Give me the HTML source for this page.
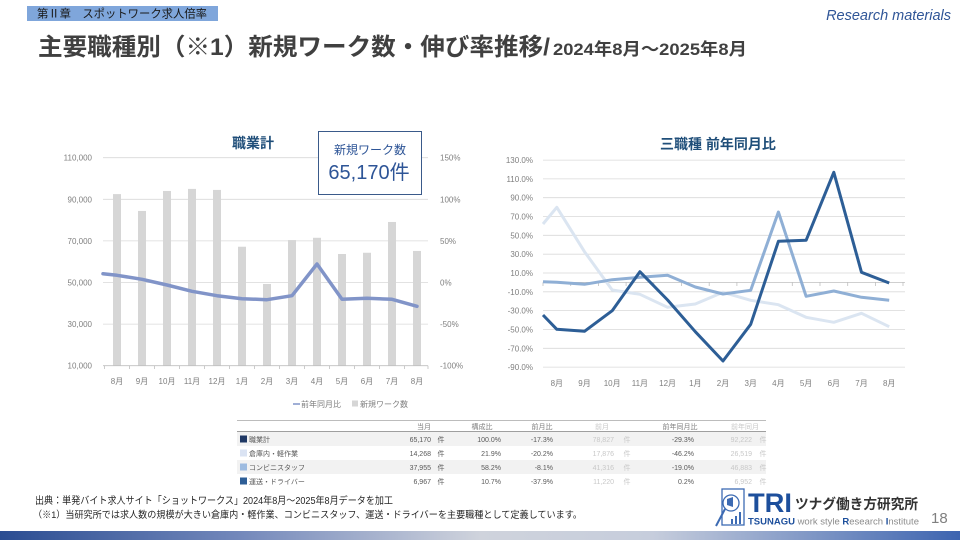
<!DOCTYPE html>
<html><head><meta charset="utf-8">
<style>
html,body{margin:0;padding:0;background:#fff;}
svg{display:block;}
text{font-family:"Liberation Sans","Noto Sans CJK JP",sans-serif;}
</style></head>
<body>
<svg width="960" height="540" viewBox="0 0 960 540" xmlns="http://www.w3.org/2000/svg">
<defs>
<linearGradient id="bar" x1="0" y1="0" x2="1" y2="0">
<stop offset="0" stop-color="#2b4d92"/>
<stop offset="0.25" stop-color="#7388bb"/>
<stop offset="0.5" stop-color="#cfd3dc"/>
<stop offset="0.68" stop-color="#c6cddc"/>
<stop offset="1" stop-color="#3d64b0"/>
</linearGradient>
</defs>

<!-- header -->
<rect x="27" y="6" width="191" height="15" fill="#7fa6db"/>
<text x="37" y="17.5" font-size="11.5" fill="#1a1a1a" textLength="170" lengthAdjust="spacingAndGlyphs">第Ⅱ章　スポットワーク求人倍率</text>
<text x="951" y="20" font-size="14.5" font-style="italic" fill="#2f5597" text-anchor="end">Research materials</text>
<text x="38" y="55" font-size="24" font-weight="bold" fill="#404040" textLength="512" lengthAdjust="spacingAndGlyphs">主要職種別（※1）新規ワーク数・伸び率推移/</text>
<text x="553" y="55" font-size="17" font-weight="bold" fill="#404040" textLength="194" lengthAdjust="spacingAndGlyphs">2024年8月～2025年8月</text>

<!-- LEFT CHART -->
<g stroke="#d9d9d9" stroke-width="0.8">
<line x1="103" y1="157.7" x2="428" y2="157.7"/>
<line x1="103" y1="199.3" x2="428" y2="199.3"/>
<line x1="103" y1="240.9" x2="428" y2="240.9"/>
<line x1="103" y1="282.5" x2="428" y2="282.5"/>
<line x1="103" y1="324.1" x2="428" y2="324.1"/>
</g>
<g fill="#d6d6d6">
<rect x="113" y="194.1" width="8" height="171.6"/>
<rect x="138" y="210.95" width="8" height="154.75"/>
<rect x="163" y="190.98" width="8" height="174.72"/>
<rect x="188" y="188.9" width="8" height="176.8"/>
<rect x="213" y="189.94" width="8" height="175.76"/>
<rect x="238" y="246.72" width="8" height="118.98"/>
<rect x="263" y="283.96" width="8" height="81.74"/>
<rect x="288" y="240.07" width="8" height="125.63"/>
<rect x="313" y="237.78" width="8" height="127.92"/>
<rect x="338" y="254" width="8" height="111.7"/>
<rect x="363" y="252.76" width="8" height="112.94"/>
<rect x="388" y="221.97" width="8" height="143.73"/>
<rect x="413" y="250.95" width="8" height="114.75"/>
</g>
<g stroke="#bfbfbf" stroke-width="0.8">
<line x1="103" y1="365.7" x2="428" y2="365.7"/>
<line x1="104.5" y1="365.7" x2="104.5" y2="369"/><line x1="129.5" y1="365.7" x2="129.5" y2="369"/>
<line x1="154.5" y1="365.7" x2="154.5" y2="369"/><line x1="179.5" y1="365.7" x2="179.5" y2="369"/>
<line x1="204.5" y1="365.7" x2="204.5" y2="369"/><line x1="229.5" y1="365.7" x2="229.5" y2="369"/>
<line x1="254.5" y1="365.7" x2="254.5" y2="369"/><line x1="279.5" y1="365.7" x2="279.5" y2="369"/>
<line x1="304.5" y1="365.7" x2="304.5" y2="369"/><line x1="329.5" y1="365.7" x2="329.5" y2="369"/>
<line x1="354.5" y1="365.7" x2="354.5" y2="369"/><line x1="379.5" y1="365.7" x2="379.5" y2="369"/>
<line x1="404.5" y1="365.7" x2="404.5" y2="369"/><line x1="428" y1="365.7" x2="428" y2="369"/>
</g>
<polyline fill="none" stroke="#8194c8" stroke-width="3.5" stroke-linejoin="round" stroke-linecap="round"
 points="103,273.7 117,275.3 142,279.3 167,285 192,291.3 217,295.7 242,298.7 267,299.7 292,295.7 317,264 342,299.3 367,298.3 392,299.3 417,306.3"/>
<g font-size="8" fill="#7f7f7f" text-anchor="end">
<text x="92" y="160.7">110,000</text>
<text x="92" y="202.3">90,000</text>
<text x="92" y="243.9">70,000</text>
<text x="92" y="285.5">50,000</text>
<text x="92" y="327.1">30,000</text>
<text x="92" y="368.7">10,000</text>
</g>
<g font-size="8" fill="#7f7f7f">
<text x="440" y="160.7">150%</text>
<text x="440" y="202.3">100%</text>
<text x="440" y="243.9">50%</text>
<text x="440" y="285.5">0%</text>
<text x="440" y="327.1">-50%</text>
<text x="440" y="368.7">-100%</text>
</g>
<g font-size="8" fill="#7f7f7f" text-anchor="middle">
<text x="117" y="384">8月</text><text x="142" y="384">9月</text><text x="167" y="384">10月</text>
<text x="192" y="384">11月</text><text x="217" y="384">12月</text><text x="242" y="384">1月</text>
<text x="267" y="384">2月</text><text x="292" y="384">3月</text><text x="317" y="384">4月</text>
<text x="342" y="384">5月</text><text x="367" y="384">6月</text><text x="392" y="384">7月</text>
<text x="417" y="384">8月</text>
</g>
<line x1="293" y1="404" x2="300" y2="404" stroke="#8194c8" stroke-width="1.5"/>
<text x="301" y="407" font-size="8" fill="#7f7f7f">前年同月比</text>
<rect x="352" y="400.5" width="6" height="6" fill="#d6d6d6"/>
<text x="360" y="407" font-size="8" fill="#7f7f7f">新規ワーク数</text>
<text x="253" y="148" font-size="14" font-weight="bold" fill="#1f4e79" text-anchor="middle">職業計</text>
<rect x="318.5" y="131.5" width="103" height="63" fill="#fff" stroke="#3a5a8a" stroke-width="1"/>
<text x="370" y="154" font-size="12" fill="#2e5597" text-anchor="middle">新規ワーク数</text>
<text x="369" y="179" font-size="20" fill="#2e5597" text-anchor="middle">65,170件</text>

<!-- RIGHT CHART -->
<g stroke="#d9d9d9" stroke-width="0.8">
<line x1="543" y1="160.1" x2="905" y2="160.1"/>
<line x1="543" y1="178.9" x2="905" y2="178.9"/>
<line x1="543" y1="197.7" x2="905" y2="197.7"/>
<line x1="543" y1="216.5" x2="905" y2="216.5"/>
<line x1="543" y1="235.3" x2="905" y2="235.3"/>
<line x1="543" y1="254.2" x2="905" y2="254.2"/>
<line x1="543" y1="273.0" x2="905" y2="273.0"/>
<line x1="543" y1="291.8" x2="905" y2="291.8"/>
<line x1="543" y1="310.6" x2="905" y2="310.6"/>
<line x1="543" y1="329.5" x2="905" y2="329.5"/>
<line x1="543" y1="348.3" x2="905" y2="348.3"/>
<line x1="543" y1="367.1" x2="905" y2="367.1"/>
</g>
<g stroke="#bfbfbf" stroke-width="0.8">
<line x1="543" y1="282.4" x2="905" y2="282.4"/>
<line x1="543" y1="282.4" x2="543" y2="286"/><line x1="570.7" y1="282.4" x2="570.7" y2="286"/>
<line x1="598.4" y1="282.4" x2="598.4" y2="286"/><line x1="626.1" y1="282.4" x2="626.1" y2="286"/>
<line x1="653.8" y1="282.4" x2="653.8" y2="286"/><line x1="681.5" y1="282.4" x2="681.5" y2="286"/>
<line x1="709.2" y1="282.4" x2="709.2" y2="286"/><line x1="736.9" y1="282.4" x2="736.9" y2="286"/>
<line x1="764.6" y1="282.4" x2="764.6" y2="286"/><line x1="792.3" y1="282.4" x2="792.3" y2="286"/>
<line x1="820" y1="282.4" x2="820" y2="286"/><line x1="847.7" y1="282.4" x2="847.7" y2="286"/>
<line x1="875.4" y1="282.4" x2="875.4" y2="286"/><line x1="903" y1="282.4" x2="903" y2="286"/>
</g>
<polyline fill="none" stroke="#dbe5f1" stroke-width="3" stroke-linejoin="round"
 points="543,224 556.8,207.3 584.5,251.7 612.2,290 639.9,294.3 667.6,307.3 695.3,304 723,292.3 750.7,300.3 778.4,304.7 806.1,317.3 833.8,322.3 861.5,313.3 889.2,326.7"/>
<polyline fill="none" stroke="#8fafd5" stroke-width="3" stroke-linejoin="round"
 points="543,281.7 556.8,282.3 584.5,284.3 612.2,279.7 639.9,277.3 667.6,275.3 695.3,287 723,294 750.7,290.3 778.4,212 806.1,296.3 833.8,291 861.5,297.3 889.2,300.3"/>
<polyline fill="none" stroke="#2d5e96" stroke-width="3" stroke-linejoin="round"
 points="543,315 556.8,329.3 584.5,331.3 612.2,310.7 639.9,271.7 667.6,300 695.3,331.7 723,361 750.7,324.3 778.4,241.3 806.1,240.3 833.8,172.3 861.5,272.3 889.2,283"/>
<g font-size="8" fill="#7f7f7f" text-anchor="end">
<text x="533" y="163.1">130.0%</text>
<text x="533" y="181.9">110.0%</text>
<text x="533" y="200.7">90.0%</text>
<text x="533" y="219.5">70.0%</text>
<text x="533" y="238.3">50.0%</text>
<text x="533" y="257.2">30.0%</text>
<text x="533" y="276.0">10.0%</text>
<text x="533" y="294.8">-10.0%</text>
<text x="533" y="313.6">-30.0%</text>
<text x="533" y="332.5">-50.0%</text>
<text x="533" y="351.3">-70.0%</text>
<text x="533" y="370.1">-90.0%</text>
</g>
<g font-size="8" fill="#7f7f7f" text-anchor="middle">
<text x="556.8" y="386">8月</text><text x="584.5" y="386">9月</text><text x="612.2" y="386">10月</text>
<text x="639.9" y="386">11月</text><text x="667.6" y="386">12月</text><text x="695.3" y="386">1月</text>
<text x="723" y="386">2月</text><text x="750.7" y="386">3月</text><text x="778.4" y="386">4月</text>
<text x="806.1" y="386">5月</text><text x="833.8" y="386">6月</text><text x="861.5" y="386">7月</text>
<text x="889.2" y="386">8月</text>
</g>
<text x="718" y="149" font-size="14" font-weight="bold" fill="#1f4e79" text-anchor="middle">三職種 前年同月比</text>

<!-- TABLE -->
<rect x="237" y="432" width="529" height="14" fill="#f2f2f2"/>
<rect x="237" y="460" width="529" height="14" fill="#f2f2f2"/>
<line x1="237" y1="420.5" x2="766" y2="420.5" stroke="#a6a6a6" stroke-width="0.8"/>
<line x1="237" y1="431.5" x2="766" y2="431.5" stroke="#7f7f7f" stroke-width="0.8"/>
<g font-size="7" text-anchor="middle">
<text x="424" y="429" fill="#7f7f7f">当月</text>
<text x="482" y="429" fill="#7f7f7f">構成比</text>
<text x="542" y="429" fill="#7f7f7f">前月比</text>
<text x="602" y="429" fill="#c8c8c8">前月</text>
<text x="680" y="429" fill="#7f7f7f">前年同月比</text>
<text x="745" y="429" fill="#c8c8c8">前年同月</text>
</g>
<rect x="240" y="435.5" width="7" height="7" fill="#1f3864"/>
<rect x="240" y="449.5" width="7" height="7" fill="#dae3f3"/>
<rect x="240" y="463.5" width="7" height="7" fill="#9dbbe0"/>
<rect x="240" y="477.5" width="7" height="7" fill="#2e5e96"/>
<g font-size="7" fill="#595959">
<text x="249" y="442">職業計</text>
<text x="249" y="456">倉庫内・軽作業</text>
<text x="249" y="470">コンビニスタッフ</text>
<text x="249" y="484">運送・ドライバー</text>
</g>
<g font-size="7" fill="#595959" text-anchor="end">
<text x="431" y="442">65,170</text><text x="431" y="456">14,268</text><text x="431" y="470">37,955</text><text x="431" y="484">6,967</text>
<text x="501" y="442">100.0%</text><text x="501" y="456">21.9%</text><text x="501" y="470">58.2%</text><text x="501" y="484">10.7%</text>
<text x="553" y="442">-17.3%</text><text x="553" y="456">-20.2%</text><text x="553" y="470">-8.1%</text><text x="553" y="484">-37.9%</text>
<text x="694" y="442">-29.3%</text><text x="694" y="456">-46.2%</text><text x="694" y="470">-19.0%</text><text x="694" y="484">0.2%</text>
</g>
<g font-size="7" fill="#595959" text-anchor="middle">
<text x="441" y="442">件</text><text x="441" y="456">件</text><text x="441" y="470">件</text><text x="441" y="484">件</text>
</g>
<g font-size="7" fill="#c8c8c8" text-anchor="end">
<text x="614" y="442">78,827</text><text x="614" y="456">17,876</text><text x="614" y="470">41,316</text><text x="614" y="484">11,220</text>
<text x="752" y="442">92,222</text><text x="752" y="456">26,519</text><text x="752" y="470">46,883</text><text x="752" y="484">6,952</text>
</g>
<g font-size="7" fill="#c8c8c8" text-anchor="middle">
<text x="627" y="442">件</text><text x="627" y="456">件</text><text x="627" y="470">件</text><text x="627" y="484">件</text>
<text x="763" y="442">件</text><text x="763" y="456">件</text><text x="763" y="470">件</text><text x="763" y="484">件</text>
</g>

<!-- FOOTER -->
<text x="35" y="504" font-size="10" fill="#262626" textLength="358" lengthAdjust="spacingAndGlyphs">出典：単発バイト求人サイト「ショットワークス」2024年8月～2025年8月データを加工</text>
<text x="33" y="518" font-size="9.5" fill="#262626" textLength="549" lengthAdjust="spacingAndGlyphs">（※1）当研究所では求人数の規模が大きい倉庫内・軽作業、コンビニスタッフ、運送・ドライバーを主要職種として定義しています。</text>

<!-- LOGO -->
<g fill="none" stroke="#3d6bb3" stroke-width="1.3">
<rect x="722" y="489" width="22" height="36"/>
<circle cx="731" cy="503" r="8"/>
<line x1="725" y1="509" x2="716" y2="526" stroke-width="2"/>
</g>
<path d="M727 499 l6 -2 l0 10 l-6 -2 z" fill="#3d6bb3"/>
<g fill="#3d6bb3">
<rect x="731" y="519" width="2" height="5"/>
<rect x="735" y="516" width="2" height="8"/>
<rect x="739" y="512" width="2" height="12"/>
</g>
<text x="748" y="512" font-size="27" font-weight="bold" fill="#1d4f9c" textLength="44" lengthAdjust="spacingAndGlyphs">TRI</text>
<text x="795" y="509" font-size="14" font-weight="bold" fill="#333" textLength="123" lengthAdjust="spacingAndGlyphs">ツナグ働き方研究所</text>
<text x="748" y="524.5" font-size="9" fill="#8c8c8c" textLength="171" lengthAdjust="spacingAndGlyphs"><tspan font-weight="bold" fill="#1d4f9c">TSUNAGU</tspan> work style <tspan fill="#1d4f9c" font-weight="bold">R</tspan>esearch <tspan fill="#1d4f9c" font-weight="bold">I</tspan>nstitute</text>
<text x="931" y="523" font-size="15" fill="#808080">18</text>

<!-- bottom bar -->
<rect x="0" y="531" width="960" height="9" fill="url(#bar)"/>
</svg>
</body></html>
